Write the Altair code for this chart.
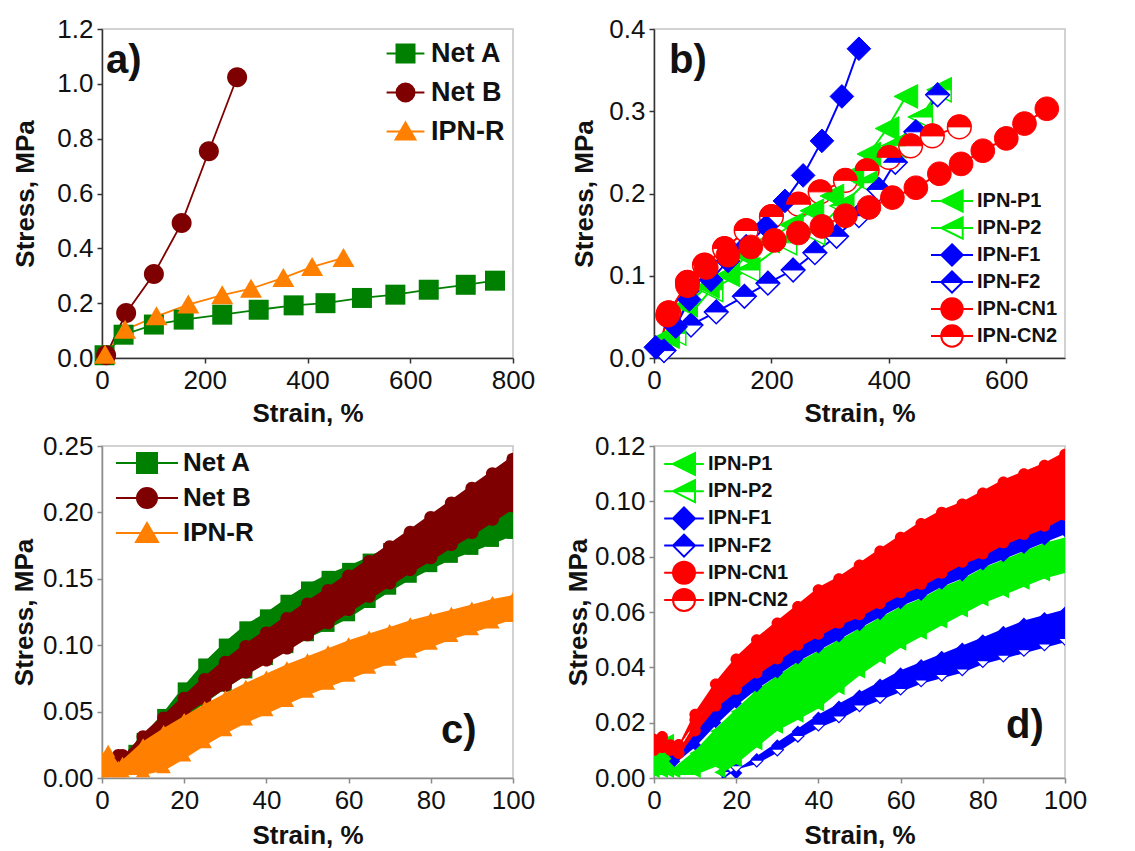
import altair as alt
import pandas as pd

# ---------------------------------------------------------------------------
# a) full tensile curves
NETA_STRAIN = [5, 42, 101, 159, 234, 305, 373, 435, 506, 571, 636, 708, 765]
NETA_STRESS = [0.010, 0.085, 0.122, 0.140, 0.158, 0.176, 0.192, 0.200, 0.219, 0.231, 0.249, 0.267, 0.282]
NETB_STRAIN = [8, 47, 101, 155, 208, 263]
NETB_STRESS = [0.010, 0.164, 0.306, 0.492, 0.754, 1.024]
IPNR_STRAIN = [6, 45, 106, 168, 234, 290, 353, 409, 470]
IPNR_STRESS = [0.012, 0.103, 0.152, 0.195, 0.229, 0.253, 0.292, 0.332, 0.365]

# b) full tensile curves of the filled networks
P1_STRAIN = [5, 23, 54, 91, 126, 157, 194, 234, 269, 303, 337, 366, 397, 429]
P1_STRESS = [0.000, 0.026, 0.064, 0.087, 0.101, 0.124, 0.142, 0.162, 0.179, 0.197, 0.222, 0.248, 0.279, 0.318]
P2_STRAIN = [10, 34, 97, 160, 223, 271, 320, 360, 409, 454, 486]
P2_STRESS = [0.000, 0.030, 0.083, 0.107, 0.140, 0.152, 0.185, 0.213, 0.258, 0.293, 0.326]
F1_STRAIN = [3, 37, 60, 97, 126, 157, 191, 223, 254, 286, 320, 349]
F1_STRESS = [0.013, 0.038, 0.071, 0.095, 0.118, 0.136, 0.160, 0.191, 0.222, 0.264, 0.318, 0.376]
F2_STRAIN = [17, 63, 106, 154, 194, 237, 274, 311, 349, 383, 411, 446, 483]
F2_STRESS = [0.009, 0.040, 0.056, 0.075, 0.091, 0.107, 0.128, 0.148, 0.173, 0.205, 0.238, 0.275, 0.320]
CN1_STRAIN = [5, 23, 57, 89, 126, 165, 205, 246, 286, 326, 366, 406, 446, 486, 523, 560, 600, 631, 669]
CN1_STRESS = [0.000, 0.052, 0.088, 0.110, 0.125, 0.135, 0.143, 0.152, 0.160, 0.173, 0.183, 0.195,
              0.207, 0.224, 0.236, 0.252, 0.267, 0.285, 0.303]
CN2_STRAIN = [5, 25, 57, 86, 120, 157, 200, 246, 283, 326, 363, 400, 437, 474, 520]
CN2_STRESS = [0.000, 0.055, 0.092, 0.113, 0.133, 0.155, 0.172, 0.187, 0.202, 0.216, 0.228, 0.244,
              0.258, 0.270, 0.281]

# c) low-strain cycling, upper / lower envelope of each data cloud
C_GRID = [10, 15, 20, 25, 30, 35, 40, 45, 50, 55, 60, 65, 70, 75, 80, 85, 90, 95, 100]
C_NETA_STRAIN = [8] + C_GRID
C_NETA_HI = [0.025, 0.034, 0.052, 0.072, 0.090, 0.105, 0.118, 0.127, 0.138, 0.148, 0.156, 0.162,
             0.169, 0.177, 0.185, 0.193, 0.199, 0.204, 0.209, 0.214]
C_NETA_LO = [0.012, 0.018, 0.030, 0.043, 0.054, 0.065, 0.075, 0.085, 0.094, 0.103, 0.110, 0.118,
             0.128, 0.138, 0.147, 0.155, 0.162, 0.168, 0.174, 0.180]
C_NETB_STRAIN = [4, 5] + C_GRID
C_NETB_HI = [0.015, 0.018, 0.036, 0.050, 0.065, 0.079, 0.092, 0.104, 0.114, 0.125, 0.136, 0.146,
             0.157, 0.168, 0.179, 0.190, 0.201, 0.212, 0.223, 0.234, 0.245]
C_NETB_LO = [0.012, 0.012, 0.022, 0.034, 0.045, 0.055, 0.065, 0.075, 0.084, 0.093, 0.103, 0.112,
             0.122, 0.132, 0.142, 0.152, 0.161, 0.171, 0.180, 0.190, 0.200]
C_IPNR_STRAIN = [0, 1.5, 4, 5] + C_GRID
C_IPNR_HI = [0.020, 0.025, 0.013, 0.016, 0.030, 0.040, 0.049, 0.058, 0.066, 0.074, 0.081, 0.088,
             0.094, 0.100, 0.106, 0.111, 0.116, 0.121, 0.125, 0.129, 0.133, 0.137, 0.140]
C_IPNR_LO = [0.0, 0.0, 0.0, 0.0, 0.0, 0.003, 0.012, 0.022, 0.031, 0.039, 0.046, 0.053, 0.060,
             0.066, 0.072, 0.078, 0.084, 0.090, 0.096, 0.102, 0.107, 0.112, 0.117]

# d) low-strain cycling of the filled networks
D_GRID = [15, 20, 25, 30, 35, 40, 45, 50, 55, 60, 65, 70, 75, 80, 85, 90, 95, 100]
D_CN2_STRAIN = [0, 2, 4, 6, 10] + D_GRID
D_CN2_HI = [0.016, 0.017, 0.014, 0.013, 0.025, 0.036, 0.045, 0.052, 0.058, 0.064, 0.070, 0.074,
            0.079, 0.084, 0.089, 0.094, 0.098, 0.101, 0.105, 0.109, 0.112, 0.115, 0.119]
D_CN2_LO = [0.008, 0.009, 0.008, 0.010, 0.019, 0.029, 0.037, 0.044, 0.050, 0.055, 0.060, 0.064,
            0.068, 0.073, 0.078, 0.082, 0.086, 0.089, 0.093, 0.097, 0.100, 0.103, 0.106]
D_CN1_STRAIN = [6, 10] + D_GRID
D_CN1_HI = [0.011, 0.021, 0.032, 0.040, 0.047, 0.053, 0.058, 0.064, 0.068, 0.073, 0.078, 0.083,
            0.087, 0.091, 0.095, 0.099, 0.103, 0.106, 0.109, 0.112]
D_CN1_LO = [0.007, 0.015, 0.024, 0.030, 0.036, 0.041, 0.046, 0.050, 0.054, 0.057, 0.061, 0.065,
            0.068, 0.072, 0.076, 0.079, 0.083, 0.086, 0.089, 0.093]
D_F1_STRAIN = [5, 10] + D_GRID
D_F1_HI = [0.010, 0.018, 0.027, 0.033, 0.039, 0.044, 0.049, 0.053, 0.057, 0.060, 0.064, 0.068,
           0.071, 0.075, 0.079, 0.082, 0.086, 0.089, 0.092, 0.096]
D_F1_LO = [0.004, 0.010, 0.018, 0.025, 0.031, 0.036, 0.041, 0.045, 0.049, 0.053, 0.057, 0.061,
           0.064, 0.068, 0.071, 0.075, 0.078, 0.081, 0.084, 0.087]
D_P1_STRAIN = [0, 2, 3.5, 5, 10] + D_GRID
D_P1_HI = [0.014, 0.015, 0.016, 0.005, 0.011, 0.019, 0.026, 0.033, 0.038, 0.043, 0.047, 0.051,
           0.055, 0.059, 0.063, 0.066, 0.070, 0.073, 0.077, 0.080, 0.083, 0.086, 0.088]
D_P1_LO = [0.0, 0.0, 0.0, 0.0, 0.0, 0.003, 0.010, 0.016, 0.022, 0.027, 0.032, 0.037, 0.042,
           0.046, 0.050, 0.054, 0.058, 0.061, 0.065, 0.068, 0.071, 0.074, 0.077]
D_P2_STRAIN = [16, 20, 25, 30, 35, 40, 45, 50, 55, 60, 65, 70, 75, 80, 85, 90, 95, 100]
D_P2_HI = [0.008, 0.015, 0.021, 0.027, 0.032, 0.037, 0.042, 0.047, 0.051, 0.055, 0.059, 0.063,
           0.066, 0.070, 0.073, 0.076, 0.079, 0.082]
D_P2_LO = [0.0, 0.004, 0.010, 0.016, 0.020, 0.024, 0.030, 0.036, 0.041, 0.046, 0.050, 0.054,
           0.058, 0.062, 0.065, 0.068, 0.071, 0.073]
D_F2_STRAIN = [17, 20, 25, 30, 35, 40, 45, 50, 55, 60, 65, 70, 75, 80, 85, 90, 95, 100]
D_F2_HI = [0.001, 0.004, 0.009, 0.014, 0.019, 0.024, 0.028, 0.032, 0.036, 0.040, 0.043, 0.046,
           0.049, 0.052, 0.055, 0.058, 0.060, 0.062]
D_F2_LO = [0.0, 0.002, 0.004, 0.008, 0.013, 0.017, 0.020, 0.024, 0.027, 0.030, 0.033, 0.035,
           0.037, 0.040, 0.042, 0.044, 0.046, 0.048]

A_SERIES = ["Net A", "Net B", "IPN-R"]
B_SERIES = ["IPN-P1", "IPN-P2", "IPN-F1", "IPN-F2", "IPN-CN1", "IPN-CN2"]
HALF_SERIES = ["IPN-P2", "IPN-F2", "IPN-CN2"]

# ---------------------------------------------------------------------------
FONT = "Liberation Sans"
INK = "#111111"
GREEN_DARK, MAROON, ORANGE = "#008000", "#7f0000", "#ff8000"
LIME, BLUE, RED = "#00ee00", "#0000ff", "#ff0000"
A_COLORS = [GREEN_DARK, MAROON, ORANGE]
B_COLORS = [LIME, LIME, BLUE, BLUE, RED, RED]

# symbol outlines in Vega's -1..1 custom-path space
SQUARE = "M -1 -1 L 1 -1 L 1 1 L -1 1 Z"
CIRCLE = "M -1 0 A 1 1 0 1 1 1 0 A 1 1 0 1 1 -1 0 Z"
TRI_UP = "M 0 -1 L 1.1 0.9 L -1.1 0.9 Z"
TRI_LEFT = "M -1 0 L 1 -1 L 1 1 Z"
DIAMOND = "M 0 -1 L 1 0 L 0 1 L -1 0 Z"
# filled upper halves of the half-open symbols
TRI_LEFT_TOP = "M -1 0 L 1 -1 L 1 0 Z"
DIAMOND_TOP = "M -1 0 L 0 -1 L 1 0 Z"
CIRCLE_TOP = "M -1 0 A 1 1 0 0 1 1 0 Z"
# lower halves traced out and back: stroked, but enclosing no area
TRI_LEFT_BOT = "M -1 0 L 1 1 L 1 0 L 1 1 Z"
DIAMOND_BOT = "M -1 0 L 0 1 L 1 0 L 0 1 Z"
CIRCLE_BOT = "M -1 0 A 1 1 0 0 0 1 0 A 1 1 0 0 1 -1 0"


def with_line(half_len, *parts):
    """Legend glyph: a horizontal line segment through the symbol."""
    return f"M {-half_len} 0 L {half_len} 0 " + " ".join(parts)


def frame(names, strains, values):
    rows = []
    for name, xs, ys in zip(names, strains, values):
        for x, y in zip(xs, ys):
            rows.append({"series": name, "strain": x, "stress": y})
    return pd.DataFrame(rows)


def band_frame(strain, hi, lo):
    return pd.DataFrame({"strain": strain, "hi": hi, "lo": lo})


def make_axes(xdom, xvals, ydom, yvals, yfmt, axis_color, x_pad, y_pad):
    common = dict(grid=False, domainColor=axis_color, domainWidth=1.5, tickColor=axis_color,
                  tickWidth=1.5, tickSize=5, labelFont=FONT, labelFontSize=26, labelColor=INK,
                  labelPadding=4, labelFlush=False, labelOverlap=False, titleFont=FONT,
                  titleFontSize=26, titleFontWeight="bold", titleColor=INK)
    x_axis = alt.Axis(values=xvals, format="d", title="Strain, %", titlePadding=x_pad, **common)
    y_axis = alt.Axis(values=yvals, format=yfmt, title="Stress, MPa", titlePadding=y_pad, **common)
    x_scale = alt.Scale(domain=xdom, nice=False, zero=False)
    y_scale = alt.Scale(domain=ydom, nice=False, zero=False)

    def X(field):
        return alt.X(f"{field}:Q", scale=x_scale, axis=x_axis)

    def Y(field):
        return alt.Y(f"{field}:Q", scale=y_scale, axis=y_axis, stack=None)

    return X, Y


def legend_layer(series, colors, paths, size, font_size, lx, ly, row_pad, label_offset):
    leg = alt.Legend(orient="none", legendX=lx, legendY=ly, title=None, direction="vertical",
                     labelFont=FONT, labelFontSize=font_size, labelFontWeight="bold",
                     labelColor=INK, labelOffset=label_offset, labelLimit=400,
                     rowPadding=row_pad, padding=0, symbolSize=size, symbolStrokeWidth=2,
                     symbolOpacity=1)
    df = pd.DataFrame({"series": series})
    return alt.Chart(df).transform_filter("false").mark_point(
        filled=True, strokeWidth=2, opacity=1
    ).encode(
        fill=alt.Fill("series:N", scale=alt.Scale(domain=series, range=colors), legend=leg),
        stroke=alt.Stroke("series:N", scale=alt.Scale(domain=series, range=colors), legend=leg),
        shape=alt.Shape("series:N", scale=alt.Scale(domain=series, range=paths), legend=leg),
    )


def tag(text, px, py):
    return alt.Chart(pd.DataFrame({"tag": [text]})).mark_text(
        font=FONT, fontSize=40, fontWeight="bold", align="left", baseline="alphabetic", color=INK
    ).encode(text="tag:N", x=alt.value(px), y=alt.value(py))


def band_layers(X, Y, df, color, shape, size, inset=3, open_bottom=None):
    r = size ** 0.5 / 2
    base = alt.Chart(df)
    layers = [
        base.mark_area(color=color, opacity=1, clip=True, yOffset=inset, y2Offset=-inset).encode(
            x=X("strain"), y=Y("hi"), y2=alt.Y2("lo:Q")),
        base.mark_point(shape=shape, filled=True, color=color, size=size, opacity=1,
                        strokeWidth=0, clip=True, yOffset=r).encode(x=X("strain"), y=Y("hi")),
    ]
    if open_bottom is None:
        layers.append(base.mark_point(shape=shape, filled=True, color=color, size=size, opacity=1,
                                      strokeWidth=0, clip=True, yOffset=-r).encode(
            x=X("strain"), y=Y("lo")))
    else:
        full, top = open_bottom
        layers.append(base.mark_point(shape=full, filled=True, fill="white", stroke=color,
                                      strokeWidth=1.2, size=size, opacity=1, clip=True,
                                      yOffset=-r).encode(x=X("strain"), y=Y("lo")))
        layers.append(base.mark_point(shape=top, filled=True, color=color, size=size, opacity=1,
                                      strokeWidth=0, clip=True, yOffset=-r).encode(
            x=X("strain"), y=Y("lo")))
    return layers


INDEPENDENT = dict(color="independent", fill="independent", stroke="independent",
                   shape="independent")

# ---------------------------------------------------------------------------
# a)
Xa, Ya = make_axes([0, 800], [0, 200, 400, 600, 800], [0, 1.2],
                   [0, 0.2, 0.4, 0.6, 0.8, 1.0, 1.2], ".1f", "#333333", 7, 18)
df_a = frame(A_SERIES, [NETA_STRAIN, NETB_STRAIN, IPNR_STRAIN],
             [NETA_STRESS, NETB_STRESS, IPNR_STRESS])
a_color = alt.Scale(domain=A_SERIES, range=A_COLORS)
a_lines = alt.Chart(df_a).mark_line(strokeWidth=1.8).encode(
    x=Xa("strain"), y=Ya("stress"), color=alt.Color("series:N", scale=a_color, legend=None))
a_marks = alt.Chart(df_a).mark_point(filled=True, size=400, opacity=1, strokeWidth=0).encode(
    x=Xa("strain"), y=Ya("stress"),
    fill=alt.Fill("series:N", scale=a_color, legend=None),
    shape=alt.Shape("series:N", scale=alt.Scale(domain=A_SERIES, range=[SQUARE, CIRCLE, TRI_UP]),
                    legend=None))
a_legend = legend_layer(A_SERIES, A_COLORS,
                        [with_line(2.1, SQUARE), with_line(2.1, CIRCLE), with_line(2.1, TRI_UP)],
                        324, 27, 290, 11, 11, 12)
panel_a = alt.layer(a_lines, a_marks, a_legend, tag("a)", 4, 44)).resolve_scale(
    **INDEPENDENT).properties(width=411, height=329)

# b)
Xb, Yb = make_axes([0, 700], [0, 200, 400, 600], [0, 0.4], [0, 0.1, 0.2, 0.3, 0.4], ".1f",
                   "#333333", 7, 11)
df_b = frame(B_SERIES,
             [P1_STRAIN, P2_STRAIN, F1_STRAIN, F2_STRAIN, CN1_STRAIN, CN2_STRAIN],
             [P1_STRESS, P2_STRESS, F1_STRESS, F2_STRESS, CN1_STRESS, CN2_STRESS])
b_color = alt.Scale(domain=B_SERIES, range=B_COLORS)
b_full = [TRI_LEFT, TRI_LEFT, DIAMOND, DIAMOND, CIRCLE, CIRCLE]
b_face = [TRI_LEFT, TRI_LEFT_TOP, DIAMOND, DIAMOND_TOP, CIRCLE, CIRCLE_TOP]
b_lines = alt.Chart(df_b).mark_line(strokeWidth=2).encode(
    x=Xb("strain"), y=Yb("stress"), color=alt.Color("series:N", scale=b_color, legend=None))
b_backs = alt.Chart(df_b).transform_filter(
    alt.FieldOneOfPredicate(field="series", oneOf=HALF_SERIES)
).transform_filter("datum.stress > 0").mark_point(
    filled=True, size=560, opacity=1, strokeWidth=1.5
).encode(
    x=Xb("strain"), y=Yb("stress"), fill=alt.value("white"),
    stroke=alt.Stroke("series:N", scale=b_color, legend=None),
    shape=alt.Shape("series:N", scale=alt.Scale(domain=B_SERIES, range=b_full), legend=None))
b_faces = alt.Chart(df_b).transform_filter("datum.stress > 0").mark_point(
    filled=True, size=560, opacity=1, strokeWidth=1
).encode(
    x=Xb("strain"), y=Yb("stress"),
    fill=alt.Fill("series:N", scale=b_color, legend=None),
    stroke=alt.Stroke("series:N", scale=b_color, legend=None),
    shape=alt.Shape("series:N", scale=alt.Scale(domain=B_SERIES, range=b_face), legend=None))
b_paths = [with_line(1.96, TRI_LEFT), with_line(1.96, TRI_LEFT_TOP, TRI_LEFT_BOT),
           with_line(1.96, DIAMOND), with_line(1.96, DIAMOND_TOP, DIAMOND_BOT),
           with_line(1.96, CIRCLE), with_line(1.96, CIRCLE_TOP, CIRCLE_BOT)]
b_legend = legend_layer(B_SERIES, B_COLORS, b_paths, 458, 20, 286, 160, -3, 13)
panel_b = alt.layer(b_lines, b_backs, b_faces, b_legend, tag("b)", 15, 44)).resolve_scale(
    **INDEPENDENT).properties(width=411, height=329)

# c)
Xc, Yc = make_axes([0, 100], [0, 20, 40, 60, 80, 100], [0, 0.25],
                   [0, 0.05, 0.10, 0.15, 0.20, 0.25], ".2f", "#8a8a8a", 9, 5)
c_layers = []
c_layers += band_layers(Xc, Yc, band_frame(C_NETA_STRAIN, C_NETA_HI, C_NETA_LO), GREEN_DARK,
                        SQUARE, 170)
c_layers += band_layers(Xc, Yc, band_frame(C_NETB_STRAIN, C_NETB_HI, C_NETB_LO), MAROON,
                        CIRCLE, 170)
c_layers += band_layers(Xc, Yc, band_frame(C_IPNR_STRAIN, C_IPNR_HI, C_IPNR_LO), ORANGE,
                        TRI_UP, 170)
c_legend = legend_layer(A_SERIES, A_COLORS,
                        [with_line(3.1, SQUARE), with_line(3.1, CIRCLE), with_line(3.1, TRI_UP)],
                        400, 26, 32, 4, 7, 23)
panel_c = alt.layer(*c_layers, c_legend, tag("c)", 339, 297)).resolve_scale(
    **INDEPENDENT).properties(width=411, height=332)

# d)
Xd, Yd = make_axes([0, 100], [0, 20, 40, 60, 80, 100], [0, 0.12],
                   [0, 0.02, 0.04, 0.06, 0.08, 0.10, 0.12], ".2f", "#8a8a8a", 9, 3)
d_layers = []
d_layers += band_layers(Xd, Yd, band_frame(D_F2_STRAIN, D_F2_HI, D_F2_LO), BLUE, DIAMOND, 150,
                        open_bottom=(DIAMOND, DIAMOND_TOP))
d_layers += band_layers(Xd, Yd, band_frame(D_P2_STRAIN, D_P2_HI, D_P2_LO), LIME, TRI_LEFT, 130)
d_layers += band_layers(Xd, Yd, band_frame(D_P1_STRAIN, D_P1_HI, D_P1_LO), LIME, TRI_LEFT, 130)
d_layers += band_layers(Xd, Yd, band_frame(D_F1_STRAIN, D_F1_HI, D_F1_LO), BLUE, DIAMOND, 130)
d_layers += band_layers(Xd, Yd, band_frame(D_CN1_STRAIN, D_CN1_HI, D_CN1_LO), RED, CIRCLE, 130)
d_layers += band_layers(Xd, Yd, band_frame(D_CN2_STRAIN, D_CN2_HI, D_CN2_LO), RED, CIRCLE, 130)
d_paths = [with_line(1.8, TRI_LEFT), with_line(1.8, TRI_LEFT_TOP, TRI_LEFT_BOT),
           with_line(1.8, DIAMOND), with_line(1.8, DIAMOND_TOP, DIAMOND_BOT),
           with_line(1.8, CIRCLE), with_line(1.8, CIRCLE_TOP, CIRCLE_BOT)]
d_legend = legend_layer(B_SERIES, B_COLORS, d_paths, 484, 20, 18, 6, -2.8, 12)
panel_d = alt.layer(*d_layers, d_legend, tag("d)", 352, 292)).resolve_scale(
    **INDEPENDENT).properties(width=411, height=332)

chart = alt.concat(
    panel_a, panel_b, panel_c, panel_d,
    columns=2, spacing={"row": 88, "column": 141}, bounds="flush",
).properties(
    padding={"left": 10, "top": 15, "right": 5, "bottom": 2}
).configure(
    background="white", font=FONT
).configure_view(
    stroke="#c4c4c4", strokeWidth=1.5
)

chart.save("out.html", embed_options={"renderer": "svg", "actions": False})
